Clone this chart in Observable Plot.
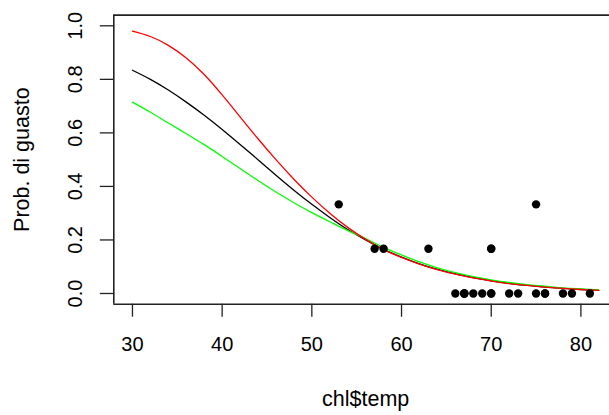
<!DOCTYPE html>
<html>
<head>
<meta charset="utf-8">
<script src="https://cdn.jsdelivr.net/npm/d3@7"></script>
<script src="https://cdn.jsdelivr.net/npm/@observablehq/plot@0.6"></script>
<style>
  html, body { margin: 0; padding: 0; background: #fff; overflow: hidden; }
  #chart svg { overflow: hidden; display: block; }
</style>
</head>
<body>
<div id="chart"></div>
<script>
// Observed data: launch temperature and proportion of failed O-rings
const obsTemp = [66, 70, 69, 68, 67, 72, 73, 70, 57, 63, 70, 78, 67, 53, 67, 75, 70, 81, 76, 79, 75, 76, 58];
const obsProp = [0, 0.167, 0, 0, 0, 0, 0, 0, 0.167, 0.167, 0.167, 0, 0, 0.333, 0, 0, 0, 0, 0, 0, 0.333, 0, 0.167];

// Fitted curves at these temperatures
const curveTemp  = [30, 32, 34, 36, 38, 40, 42, 44, 46, 48, 50, 52, 54, 56, 58, 60, 62, 64, 66, 68, 70, 72, 74, 76, 78, 80, 82];
const curveBlack = [0.834, 0.800, 0.760, 0.715, 0.666, 0.613, 0.557, 0.500, 0.442, 0.386, 0.333, 0.284, 0.239, 0.200, 0.165, 0.136, 0.111, 0.090, 0.073, 0.059, 0.047, 0.038, 0.030, 0.024, 0.019, 0.015, 0.012];
const curveRed   = [0.980, 0.960, 0.927, 0.880, 0.818, 0.742, 0.660, 0.578, 0.500, 0.427, 0.360, 0.300, 0.247, 0.202, 0.164, 0.135, 0.110, 0.089, 0.072, 0.058, 0.047, 0.037, 0.030, 0.024, 0.019, 0.015, 0.012];
const curveGreen = [0.715, 0.677, 0.637, 0.597, 0.556, 0.512, 0.467, 0.422, 0.379, 0.339, 0.302, 0.268, 0.235, 0.205, 0.172, 0.144, 0.118, 0.096, 0.078, 0.063, 0.051, 0.041, 0.033, 0.027, 0.021, 0.017, 0.013];

// Axis ticks and labels
const xTicks = [30, 40, 50, 60, 70, 80];
const yTicks = [0, 0.2, 0.4, 0.6, 0.8, 1.0];
const yTickLabels = ["0.0", "0.2", "0.4", "0.6", "0.8", "1.0"];
const xLabel = "chl$temp";
const yLabel = "Prob. di guasto";

// Build tables
const points = obsTemp.map((t, i) => ({t, p: obsProp[i]}));
const black = curveTemp.map((t, i) => ({t, p: curveBlack[i]}));
const red = curveTemp.map((t, i) => ({t, p: curveRed[i]}));
const green = curveTemp.map((t, i) => ({t, p: curveGreen[i]}));
const yTickData = yTicks.map((v, i) => ({v, label: yTickLabels[i]}));

// R-style 4% expansion of the data range
const xMin = d3.min(curveTemp), xMax = d3.max(curveTemp);
const xPad = (xMax - xMin) * 0.04;
const xDomain = [xMin - xPad, xMax + xPad];
const yDomain = [-0.04, 1.04];
const xMid = (xDomain[0] + xDomain[1]) / 2;
const yMid = (yDomain[0] + yDomain[1]) / 2;

const font = "'Liberation Sans', Arial, Helvetica, sans-serif";

const chart = Plot.plot({
  width: 609,
  height: 415,
  marginLeft: 113.3,
  marginRight: 0,
  marginTop: 14.6,
  marginBottom: 111.3,
  style: {fontFamily: font, background: "#fff", color: "#000", overflow: "hidden"},
  x: {domain: xDomain, range: [113.3, 617]},
  y: {domain: yDomain},
  marks: [
    // box
    Plot.ruleY([yDomain[0], yDomain[1]], {stroke: "#222", strokeWidth: 1.6}),
    Plot.ruleX([xDomain[0]], {stroke: "#222", strokeWidth: 1.6}),
    // axes
    Plot.axisX({ticks: xTicks, tickSize: 13, tickPadding: 20, fontSize: 20, label: null, stroke: "#222", strokeWidth: 1.3, tickFormat: d => String(d)}),
    Plot.axisY({ticks: yTicks, tickSize: 13.5, tickFormat: () => "", label: null, stroke: "#222", strokeWidth: 1.3}),
    Plot.text(yTickData, {y: "v", text: "label", frameAnchor: "left", dx: -31.5, rotate: -90, textAnchor: "middle", lineAnchor: "bottom", fontSize: 20, fill: "#000"}),
    // axis titles
    Plot.text([xLabel], {x: () => xMid, text: d => d, frameAnchor: "bottom", dy: 101.3, lineAnchor: "bottom", textAnchor: "middle", fontSize: 21.5, fill: "#000"}),
    Plot.text([yLabel], {y: () => yMid, text: d => d, frameAnchor: "left", dx: -84.5, rotate: -90, textAnchor: "middle", lineAnchor: "bottom", fontSize: 21.5, fill: "#000"}),
    // curves
    Plot.line(black, {x: "t", y: "p", stroke: "#000", strokeWidth: 1.3, curve: "natural"}),
    Plot.line(green, {x: "t", y: "p", stroke: "#00ff00", strokeWidth: 1.3, curve: "natural"}),
    Plot.line(red, {x: "t", y: "p", stroke: "#ff0000", strokeWidth: 1.3, curve: "natural"}),
    // observations
    Plot.dot(points, {x: "t", y: "p", r: 4.2, fill: "#000", stroke: "none"})
  ]
});
document.getElementById("chart").appendChild(chart);
</script>
</body>
</html>
